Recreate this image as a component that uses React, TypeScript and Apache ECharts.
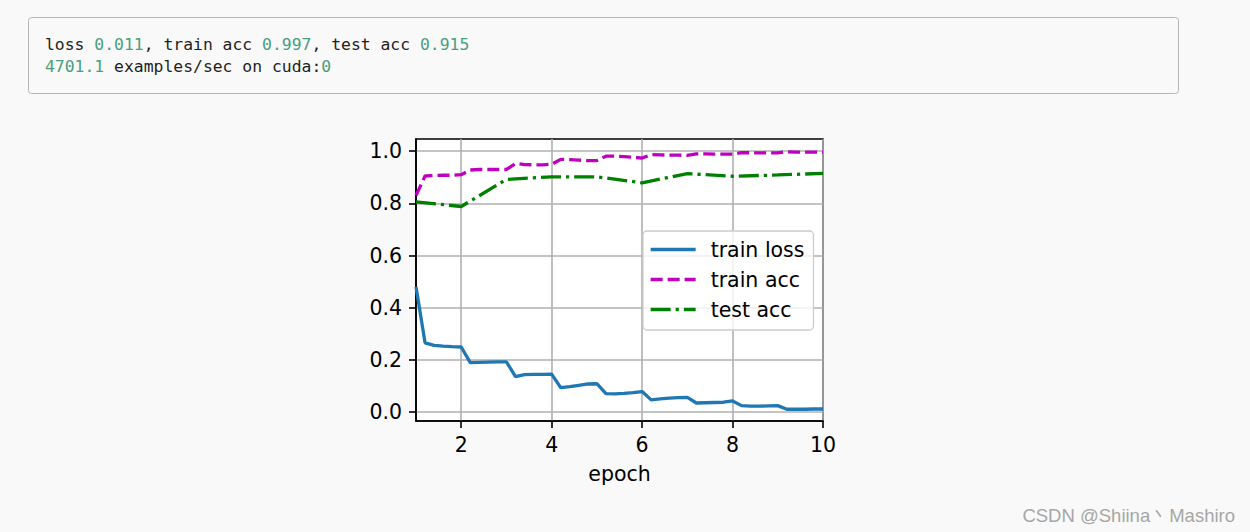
import React, { useEffect, useRef } from "react";
import * as echarts from "echarts";

const epochs = [
  1.0, 1.2, 1.4, 1.6, 1.8, 2.0, 2.2, 2.4, 2.6, 2.8, 3.0, 3.2, 3.4, 3.6, 3.8, 4.0,
  4.2, 4.4, 4.6, 4.8, 5.0, 5.2, 5.4, 5.6, 5.8, 6.0, 6.2, 6.4, 6.6, 6.8, 7.0,
  7.2, 7.4, 7.6, 7.8, 8.0, 8.2, 8.4, 8.6, 8.8, 9.0, 9.2, 9.4, 9.6, 9.8, 10.0,
];
const trainLoss = [
  0.48, 0.265, 0.255, 0.252, 0.25, 0.249, 0.189, 0.19, 0.191, 0.192, 0.192,
  0.135, 0.143, 0.144, 0.144, 0.145, 0.093, 0.097, 0.102, 0.107, 0.108,
  0.07, 0.069, 0.071, 0.074, 0.078, 0.046, 0.05, 0.053, 0.055, 0.056,
  0.034, 0.035, 0.036, 0.037, 0.042, 0.024, 0.022, 0.022, 0.023, 0.024,
  0.01, 0.01, 0.01, 0.011, 0.011,
];
const trainAcc = [
  0.83, 0.905, 0.907, 0.908, 0.908, 0.91, 0.928, 0.93, 0.93, 0.93, 0.93,
  0.953, 0.949, 0.948, 0.948, 0.95, 0.969, 0.968, 0.966, 0.964, 0.964,
  0.981, 0.981, 0.979, 0.977, 0.974, 0.987, 0.986, 0.985, 0.985, 0.984,
  0.99, 0.99, 0.989, 0.989, 0.989, 0.995, 0.994, 0.994, 0.994, 0.994,
  0.998, 0.997, 0.997, 0.997, 0.997,
];
const testEpochs = [1, 2, 3, 4, 5, 6, 7, 8, 9, 10];
const testAcc = [0.806, 0.788, 0.892, 0.902, 0.902, 0.879, 0.914, 0.904, 0.909, 0.915];

const xTicks = [2, 4, 6, 8, 10];
const yTicks = [0, 0.2, 0.4, 0.6, 0.8, 1.0];
const seriesNames = ["train loss", "train acc", "test acc"];

const summary = { loss: "0.011", trainAcc: "0.997", testAcc: "0.915", speed: "4701.1", device: "0" };

const FONT = "DejaVu Sans";
const MONO = "DejaVu Sans Mono";
const LW = 3.3;

export default function App() {
  const ref = useRef<HTMLDivElement>(null);
  useEffect(() => {
    if (!ref.current) return;
    const chart = echarts.init(ref.current, undefined, { renderer: "svg" });
    const axisLineStyle = { color: "#000", width: 1.6 };
    const labelStyle = { fontSize: 20.5, color: "#000", fontFamily: FONT };
    const option: any = {
      animation: false,
      backgroundColor: "#f9f9f9",
      grid: {
        left: 416,
        top: 139,
        right: 1250 - 823,
        bottom: 532 - 421,
        show: true,
        backgroundColor: "#ffffff",
        borderColor: "#000",
        borderWidth: 1.6,
      },
      xAxis: {
        type: "value",
        min: 1,
        max: 10,
        axisLine: { show: true, onZero: false, lineStyle: axisLineStyle },
        axisTick: { show: true, length: 7, lineStyle: axisLineStyle, customValues: xTicks },
        axisLabel: { ...labelStyle, customValues: xTicks, margin: 13, showMinLabel: true, showMaxLabel: true },
        splitLine: { show: true, lineStyle: { color: "#b0b0b0", width: 1.6 } },
        name: "epoch",
        nameLocation: "middle",
        nameGap: 42,
        nameTextStyle: { ...labelStyle },
      },
      yAxis: {
        type: "value",
        min: -0.035,
        max: 1.047,
        axisLine: { show: true, onZero: false, lineStyle: axisLineStyle },
        axisTick: { show: true, length: 7, lineStyle: axisLineStyle, customValues: yTicks },
        axisLabel: {
          ...labelStyle,
          customValues: yTicks,
          margin: 14,
          formatter: (v: number) => v.toFixed(1),
        },
        splitLine: { show: true, lineStyle: { color: "#b0b0b0", width: 1.6 } },
      },
      legend: {
        orient: "vertical",
        left: 643,
        top: 231,
        itemWidth: 45,
        itemHeight: 14,
        itemGap: 9,
        padding: [8, 9, 10, 6],
        backgroundColor: "rgba(255,255,255,0.8)",
        borderColor: "#cccccc",
        borderWidth: 1.3,
        borderRadius: 4,
        itemStyle: { opacity: 0 },
        lineStyle: { width: LW },
        textStyle: { fontSize: 20.5, color: "#000", fontFamily: FONT, padding: [0, 0, 0, 10] },
        data: seriesNames,
      },
      series: [
        {
          name: seriesNames[0],
          type: "line",
          symbol: "none",
          data: epochs.map((x, i) => [x, trainLoss[i]]),
          lineStyle: { color: "#1f77b4", width: LW },
          itemStyle: { color: "#1f77b4" },
        },
        {
          name: seriesNames[1],
          type: "line",
          symbol: "none",
          data: epochs.map((x, i) => [x, trainAcc[i]]),
          lineStyle: { color: "#bf00bf", width: LW, type: [12, 5] },
          itemStyle: { color: "#bf00bf" },
        },
        {
          name: seriesNames[2],
          type: "line",
          symbol: "none",
          data: testEpochs.map((x, i) => [x, testAcc[i]]),
          lineStyle: { color: "#008000", width: LW, type: [20, 5, 3.2, 5] },
          itemStyle: { color: "#008000" },
        },
      ],
      graphic: [
        {
          type: "rect",
          shape: { x: 28.5, y: 17.5, width: 1150, height: 76, r: 3 },
          style: { fill: "#f9f9f9", stroke: "#b5b5b5", lineWidth: 1 },
          z: 0,
        },
        {
          type: "text",
          x: 45,
          y: 44,
          style: {
            text: `{t|loss }{n|${summary.loss}}{t|, train acc }{n|${summary.trainAcc}}{t|, test acc }{n|${summary.testAcc}}`,
            verticalAlign: "middle",
            rich: {
              t: { fontFamily: MONO, fontSize: 16.4, fill: "#1f1f1f" },
              n: { fontFamily: MONO, fontSize: 16.4, fill: "#48a07e" },
            },
          },
        },
        {
          type: "text",
          x: 45,
          y: 66,
          style: {
            text: `{n|${summary.speed}}{t| examples/sec on cuda:}{n|${summary.device}}`,
            verticalAlign: "middle",
            rich: {
              t: { fontFamily: MONO, fontSize: 16.4, fill: "#1f1f1f" },
              n: { fontFamily: MONO, fontSize: 16.4, fill: "#48a07e" },
            },
          },
        },
        {
          type: "text",
          x: 1235,
          y: 515,
          style: {
            text: "CSDN @Shiina丶Mashiro",
            align: "right",
            verticalAlign: "middle",
            fontFamily: "Liberation Sans",
            fontSize: 18.5,
            fill: "#a6a6a6",
          },
        },
      ],
    };
    chart.setOption(option);
    return () => chart.dispose();
  }, []);
  return (
    <div
      ref={ref}
      style={{ position: "absolute", left: 0, top: 0, width: 1250, height: 532, background: "#f9f9f9" }}
    />
  );
}
